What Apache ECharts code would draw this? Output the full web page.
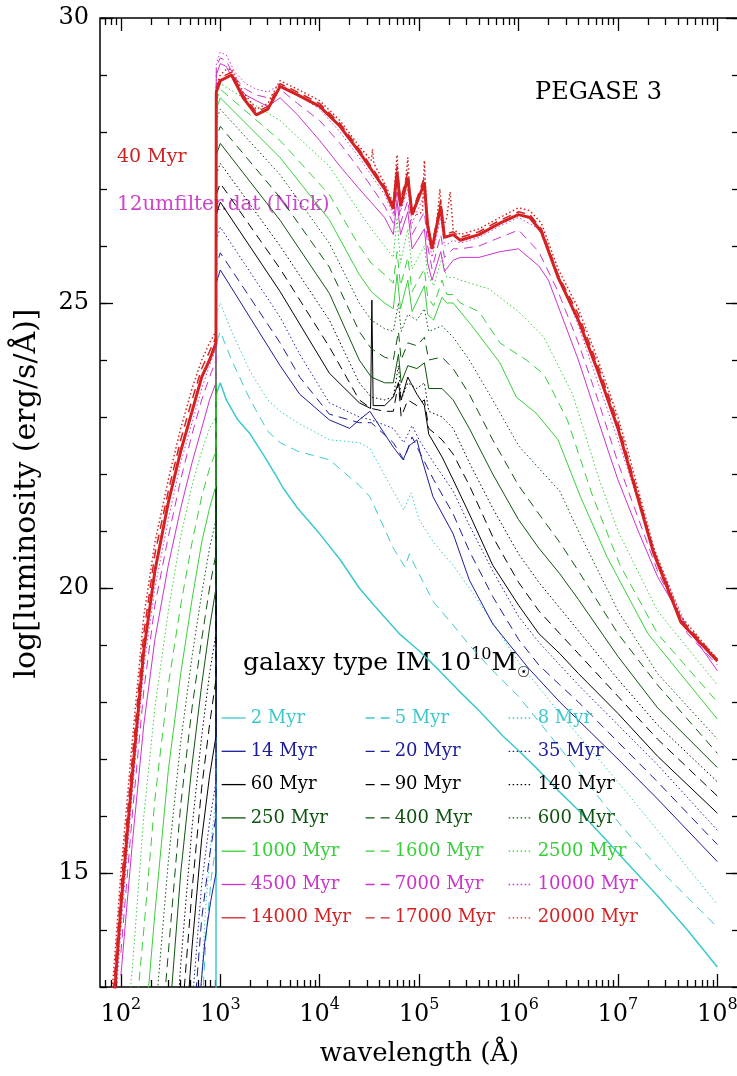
<!DOCTYPE html>
<html>
<head>
<meta charset="utf-8">
<script src="https://cdn.jsdelivr.net/npm/echarts@6/dist/echarts.min.js"></script>
<style>
  html, body { margin: 0; background: #fff; }
  #chart { width: 737px; height: 1076px; }
</style>
</head>
<body>
<div id="chart"></div>
<script>
// digitised SEDs: [wavelength in Å, log luminosity]
const myr2 = [[850,11.5],[905,12.0],[912,23.4],[1000,23.6],[1150,23.3],[1500,22.95],[2000,22.7],[2800,22.3],[3700,21.95],[4300,21.75],[6000,21.4],[10000,20.95],[16000,20.5],[25000,20.0],[35000,19.7],[50000,19.4],[63000,19.2],[100000,18.9],[160000,18.55],[250000,18.2],[400000,17.85],[700000,17.4],[1000000,17.15],[1600000,16.8],[2500000,16.45],[4000000,16.1],[7000000,15.65],[12000000,15.2],[25000000,14.6],[50000000,14.0],[100000000,13.35]];
const myr5 = [[650,12.5],[720,13.9],[810,14.9],[905,15.5],[912,24.3],[1000,24.5],[1300,24.0],[2000,23.3],[3000,22.75],[4000,22.55],[6000,22.4],[12500,22.25],[25000,21.8],[32000,21.6],[55000,20.7],[72000,20.37],[80000,20.6],[90000,20.4],[140000,19.75],[220000,19.35],[320000,19.0],[550000,18.55],[1000000,18.1],[2600000,17.2],[10000000,15.9],[25000000,15.1],[100000000,14.05]];
const myr8 = [[620,12.4],[700,14.2],[800,15.5],[905,16.3],[912,24.8],[1000,25.0],[1300,24.5],[2000,23.8],[3000,23.3],[4000,23.1],[6000,22.9],[12500,22.6],[25000,22.55],[32000,22.45],[55000,21.7],[70000,21.37],[83000,21.67],[100000,21.2],[140000,20.8],[220000,20.4],[320000,20.0],[550000,19.4],[1000000,18.7],[2600000,17.8],[10000000,16.6],[25000000,15.75],[100000000,14.45]];
const myr14 = [[600,12.5],[700,13.8],[800,14.5],[905,15.0],[912,25.35],[1000,25.58],[4000,23.9],[6300,23.4],[12500,22.95],[20000,22.8],[25000,22.95],[32000,23.1],[55000,22.47],[69000,22.25],[80000,22.5],[95000,22.6],[105000,22.3],[138000,21.6],[220000,20.95],[320000,20.14],[550000,19.37],[1250000,18.6],[2600000,18.0],[10000000,17.0],[25000000,16.3],[100000000,15.2]];
const myr20 = [[540,12.4],[650,14.2],[780,15.3],[905,16.0],[912,25.65],[1000,25.88],[4000,24.3],[6300,23.7],[12500,23.05],[25000,22.9],[33000,22.9],[55000,22.55],[70000,22.25],[85000,22.65],[100000,22.4],[140000,21.9],[220000,21.3],[320000,20.65],[550000,19.85],[1000000,19.1],[1600000,18.65],[2600000,18.3],[4000000,18.0],[10000000,17.3],[25000000,16.6],[100000000,15.5]];
const myr35 = [[500,12.3],[650,14.8],[780,15.9],[905,16.6],[912,26.1],[1000,26.33],[4000,24.75],[6300,24.1],[12500,23.25],[25000,23.0],[33000,22.95],[55000,22.8],[70000,22.55],[85000,22.85],[100000,22.6],[140000,22.2],[220000,21.7],[320000,21.1],[550000,20.3],[1000000,19.5],[1600000,19.05],[2600000,18.65],[4000000,18.3],[10000000,17.6],[25000000,16.9],[100000000,15.75]];
const myr60 = [[450,12.2],[520,13.7],[650,15.6],[780,16.7],[905,17.4],[912,26.55],[1000,26.77],[4000,25.2],[12500,23.77],[25000,23.25],[32500,23.15],[33500,25.05],[34500,23.2],[45000,23.2],[55000,23.35],[62000,23.6],[66000,23.3],[77000,23.7],[95000,23.4],[113000,23.2],[125000,22.7],[170000,22.3],[220000,21.9],[320000,21.3],[550000,20.4],[1000000,19.7],[1600000,19.2],[2600000,18.85],[4000000,18.5],[10000000,17.8],[25000000,17.05],[100000000,16.05]];
const myr90 = [[400,12.2],[520,14.7],[650,16.5],[780,17.6],[905,18.4],[912,26.9],[1000,27.1],[4000,25.6],[12500,24.23],[25000,23.3],[33000,23.15],[45000,23.1],[55000,23.1],[62000,23.6],[66000,23.0],[77000,23.3],[95000,23.2],[113000,23.3],[125000,22.8],[170000,22.6],[220000,22.35],[320000,21.8],[550000,20.9],[1000000,20.1],[1600000,19.6],[2600000,19.2],[4000000,18.85],[10000000,18.1],[25000000,17.35],[100000000,16.35]];
const myr140 = [[360,12.2],[400,13.4],[520,15.8],[650,17.4],[780,18.5],[905,19.2],[912,27.25],[1000,27.45],[4000,26.0],[12500,24.7],[25000,23.6],[33000,23.35],[45000,23.3],[55000,23.35],[62000,23.9],[66000,23.3],[77000,23.6],[95000,23.5],[113000,23.6],[125000,23.1],[170000,23.0],[220000,22.8],[320000,22.2],[550000,21.4],[1000000,20.6],[1600000,20.1],[2600000,19.65],[4000000,19.25],[10000000,18.4],[25000000,17.6],[100000000,16.6]];
const myr250 = [[300,12.2],[400,15.0],[520,16.9],[650,18.3],[780,19.3],[905,20.0],[912,27.6],[1000,27.8],[4000,26.45],[12500,25.17],[25000,24.0],[33000,23.7],[45000,23.6],[55000,23.6],[62000,24.1],[66000,23.6],[77000,23.9],[95000,23.85],[113000,23.95],[125000,23.5],[170000,23.5],[220000,23.3],[320000,22.8],[550000,22.0],[1000000,21.2],[1600000,20.7],[2600000,20.25],[4000000,19.8],[10000000,18.8],[25000000,17.9],[100000000,16.85]];
const myr400 = [[260,12.3],[300,13.6],[400,16.2],[520,17.9],[650,19.1],[780,20.0],[905,20.6],[912,27.9],[1000,28.1],[4000,26.85],[12500,25.63],[25000,24.5],[33000,24.2],[45000,24.05],[55000,24.0],[62000,24.5],[66000,24.0],[77000,24.3],[95000,24.25],[113000,24.4],[125000,24.0],[170000,24.05],[220000,23.85],[320000,23.4],[550000,22.6],[1000000,21.8],[1600000,21.3],[2600000,20.8],[4000000,20.3],[10000000,19.2],[25000000,18.3],[100000000,17.1]];
const myr600 = [[220,12.4],[300,15.2],[400,17.3],[520,18.8],[650,19.9],[780,20.7],[905,21.2],[912,28.2],[1000,28.4],[4000,27.25],[12500,26.05],[25000,25.0],[33000,24.7],[45000,24.55],[55000,24.5],[62000,25.0],[66000,24.5],[77000,24.8],[95000,24.7],[113000,24.9],[125000,24.5],[170000,24.6],[220000,24.4],[320000,24.0],[550000,23.3],[1000000,22.5],[1600000,22.1],[2600000,21.7],[4000000,21.0],[10000000,19.6],[25000000,18.5],[100000000,17.35]];
const myr1000 = [[170,12.0],[220,14.3],[300,16.8],[400,18.5],[520,19.8],[650,20.8],[780,21.4],[905,21.8],[912,28.4],[1000,28.6],[4000,27.55],[12500,26.46],[25000,25.5],[33000,25.2],[45000,25.0],[55000,24.9],[60000,25.5],[65000,24.9],[77000,25.4],[85000,24.85],[113000,25.3],[122000,24.8],[140000,24.7],[170000,25.1],[190000,25.0],[220000,25.0],[340000,24.6],[650000,23.95],[950000,23.35],[1500000,23.07],[2500000,22.6],[4200000,21.6],[7800000,20.54],[20000000,19.2],[100000000,17.7]];
const myr1600 = [[130,11.8],[170,14.0],[220,16.3],[300,18.3],[400,19.7],[520,20.8],[650,21.6],[780,22.1],[905,22.4],[912,28.55],[1000,28.75],[4000,27.85],[12500,26.9],[25000,26.0],[33000,25.7],[45000,25.5],[55000,25.35],[60000,25.9],[65000,25.3],[77000,25.8],[85000,25.2],[113000,25.6],[122000,25.1],[140000,24.95],[170000,25.4],[190000,25.15],[220000,25.15],[260000,25.0],[400000,24.85],[650000,24.3],[1200000,24.0],[1800000,23.75],[3100000,22.95],[5600000,21.6],[10500000,20.4],[25000000,19.2],[100000000,18.0]];
const myr2500 = [[110,12.0],[130,13.3],[170,16.0],[220,17.9],[300,19.6],[400,20.9],[520,21.8],[650,22.4],[780,22.8],[905,23.0],[912,28.65],[1000,28.85],[4000,28.2],[12500,27.4],[25000,26.6],[33000,26.3],[45000,26.0],[55000,25.8],[60000,26.5],[65000,25.7],[77000,26.3],[85000,25.6],[113000,26.0],[122000,25.5],[140000,25.3],[170000,25.8],[190000,25.45],[220000,25.45],[260000,25.4],[500000,25.25],[1000000,24.85],[1800000,24.4],[3500000,23.4],[6500000,21.9],[10000000,21.0],[25000000,19.6],[100000000,18.3]];
const myr4500 = [[100,13.2],[130,15.5],[170,17.6],[220,19.1],[300,20.4],[400,21.4],[520,22.2],[650,22.8],[780,23.3],[905,23.6],[912,29.0],[1000,29.2],[1150,29.15],[1400,28.85],[1800,28.65],[2300,28.55],[3000,28.45],[4000,28.6],[6000,28.3],[10000,27.85],[16000,27.4],[25000,27.0],[45000,26.5],[55000,26.2],[60000,26.8],[65000,26.2],[77000,26.6],[85000,25.95],[113000,26.3],[122000,25.7],[135000,25.4],[165000,25.9],[180000,25.55],[220000,25.75],[260000,25.8],[400000,25.8],[650000,25.9],[1000000,25.95],[1600000,25.65],[2000000,25.4],[2500000,24.95],[4000000,24.0],[8000000,22.4],[10000000,21.9],[16000000,21.0],[25000000,20.2],[50000000,19.3],[100000000,18.55]];
const myr7000 = [[100,13.6],[130,16.0],[170,18.2],[220,19.7],[300,20.9],[400,21.9],[520,22.7],[650,23.3],[780,23.7],[905,24.0],[912,29.15],[1000,29.3],[1150,29.25],[1400,28.95],[1800,28.75],[2300,28.65],[3000,28.6],[4000,28.75],[6000,28.5],[10000,28.2],[16000,27.8],[25000,27.35],[45000,26.7],[55000,26.4],[60000,27.0],[65000,26.4],[77000,26.8],[85000,26.2],[113000,26.6],[122000,26.0],[135000,25.6],[165000,26.2],[180000,25.8],[220000,25.95],[260000,25.95],[400000,26.0],[650000,26.15],[1000000,26.28],[1600000,25.9],[2500000,25.2],[4000000,24.3],[6300000,23.3],[10000000,22.2],[25000000,20.3],[50000000,19.2],[100000000,18.65]];
const myr10000 = [[80,11.6],[100,14.0],[130,16.4],[170,18.6],[220,20.0],[300,21.2],[400,22.2],[520,22.9],[650,23.5],[780,23.9],[905,24.2],[912,29.2],[1000,29.4],[1150,29.35],[1400,29.05],[1800,28.85],[2300,28.75],[3000,28.7],[3700,28.8],[4000,28.85],[6000,28.65],[10000,28.4],[16000,28.0],[25000,27.55],[45000,26.9],[55000,26.55],[60000,27.2],[65000,26.6],[77000,27.0],[85000,26.4],[113000,26.9],[122000,26.2],[135000,25.8],[165000,26.5],[180000,26.0],[220000,26.1],[260000,26.05],[400000,26.15],[650000,26.35],[1000000,26.5],[1600000,26.3],[2500000,25.5],[4000000,24.6],[6300000,23.6],[10000000,22.6],[25000000,20.5],[50000000,19.3],[100000000,18.7]];
const myr14000 = [[80,12.1],[100,14.4],[130,16.7],[170,18.9],[220,20.3],[300,21.5],[400,22.4],[520,23.1],[650,23.7],[780,24.0],[905,24.3],[912,28.7],[1000,28.9],[1300,29.0],[1700,28.6],[2300,28.3],[3000,28.4],[4000,28.8],[6000,28.65],[10000,28.45],[16000,28.1],[25000,27.65],[45000,27.0],[55000,26.65],[60000,27.3],[65000,26.7],[77000,27.2],[85000,26.55],[113000,27.1],[122000,26.35],[135000,25.95],[165000,26.7],[180000,26.15],[220000,26.2],[260000,26.1],[400000,26.2],[650000,26.4],[1000000,26.55],[1300000,26.5],[1700000,26.25],[2500000,25.45],[4000000,24.7],[6300000,23.8],[10000000,22.8],[23000000,20.6],[43000000,19.4],[100000000,18.72]];
const myr17000 = [[80,12.4],[100,14.7],[130,17.0],[170,19.2],[220,20.6],[300,21.7],[400,22.6],[520,23.3],[650,23.85],[780,24.15],[905,24.4],[912,28.75],[1000,28.95],[1300,29.05],[1700,28.65],[2300,28.35],[3000,28.45],[4000,28.85],[6000,28.7],[10000,28.5],[16000,28.15],[25000,27.7],[45000,27.05],[55000,26.7],[60000,27.4],[65000,26.8],[77000,27.3],[85000,26.6],[113000,27.2],[122000,26.4],[135000,26.0],[165000,26.8],[180000,26.2],[220000,26.25],[260000,26.15],[400000,26.25],[650000,26.45],[1000000,26.6],[1300000,26.55],[1700000,26.3],[2500000,25.5],[4000000,24.8],[6300000,23.9],[10000000,22.9],[23000000,20.65],[43000000,19.45],[100000000,18.75]];
const myr20000 = [[80,12.7],[100,15.0],[130,17.3],[170,19.5],[220,20.8],[300,21.9],[400,22.8],[520,23.5],[650,24.0],[780,24.3],[905,24.5],[912,28.8],[1000,29.0],[1150,29.1],[1300,29.1],[1700,28.7],[2300,28.4],[3000,28.5],[3700,28.8],[4000,28.9],[6000,28.75],[10000,28.55],[16000,28.2],[25000,27.75],[33000,27.5],[34000,27.7],[35000,27.45],[45000,27.1],[55000,26.75],[60000,27.6],[63000,26.9],[70000,26.8],[77000,27.55],[82000,26.7],[95000,26.55],[108000,26.6],[113000,27.5],[120000,26.5],[135000,26.0],[150000,26.4],[162000,27.0],[172000,26.3],[190000,26.5],[205000,26.95],[220000,26.3],[260000,26.2],[400000,26.3],[650000,26.5],[1000000,26.67],[1300000,26.62],[1700000,26.4],[2500000,25.6],[4000000,24.9],[6300000,24.0],[10000000,23.0],[12600000,22.4],[23000000,20.7],[43000000,19.5],[100000000,18.75]];

const ageNames = ['2 Myr','5 Myr','8 Myr','14 Myr','20 Myr','35 Myr','60 Myr','90 Myr','140 Myr',
  '250 Myr','400 Myr','600 Myr','1000 Myr','1600 Myr','2500 Myr','4500 Myr','7000 Myr','10000 Myr',
  '14000 Myr','17000 Myr','20000 Myr'];
const ageData = [myr2, myr5, myr8, myr14, myr20, myr35, myr60, myr90, myr140, myr250, myr400, myr600,
  myr1000, myr1600, myr2500, myr4500, myr7000, myr10000, myr14000, myr17000, myr20000];

const yTickLabels = [15, 20, 25, 30];
const xTickExponents = [2, 3, 4, 5, 6, 7, 8];

// one colour per triplet, and solid / dashed / dotted within it
const groupColors = ['#3cc8cc', '#1c1c9c', '#000000', '#0e540e', '#38d038', '#cc33cc', '#d42222'];
const dashes = ['solid', [9, 6], [1.5, 2.5]];

const serif = '"DejaVu Serif", "Liberation Serif", serif';
const xMin = 1.79, xMax = 8.218;

const minorX = [];
for (let e = 1; e <= 8; e++) {
  for (let m = 2; m <= 9; m++) {
    const v = e + Math.log10(m);
    if (v > xMin && v < xMax) minorX.push(v);
  }
}
const minorY = [];
for (let v = 13; v <= 30; v++) minorY.push(v);

const chart = echarts.init(document.getElementById('chart'), null, { renderer: 'canvas' });

const series = ageData.map((pts, i) => {
  const group = Math.floor(i / 3);
  let width = 1;
  if (i === 0) width = 1.5;
  if (group === 6) width = 1.5;
  if (i === 18) width = 3;
  return {
    name: ageNames[i],
    type: 'line',
    data: pts.map(p => [Math.log10(p[0]), p[1]]),
    symbol: 'none',
    silent: true,
    clip: true,
    color: groupColors[group],
    lineStyle: { color: groupColors[group], width: width, type: dashes[i % 3] }
  };
});

const tickStyle = { color: '#000', width: 1.3 };

function xAxisOf(position, ticks, len, withLabels) {
  return {
    type: 'value', position: position, min: xMin, max: xMax,
    axisLine: { show: false, onZero: false },
    splitLine: { show: false },
    axisTick: { show: true, inside: true, length: len, customValues: ticks, lineStyle: tickStyle },
    axisLabel: withLabels ? {
      show: true, margin: 10, customValues: xTickExponents,
      formatter: v => '{b|10}{s|' + Math.round(v) + '}',
      rich: {
        b: { fontFamily: serif, fontSize: 24, color: '#000', lineHeight: 30, verticalAlign: 'bottom' },
        s: { fontFamily: serif, fontSize: 16, color: '#000', lineHeight: 30, verticalAlign: 'top' }
      }
    } : { show: false }
  };
}

function yAxisOf(position, ticks, len, withLabels) {
  return {
    type: 'value', position: position, min: 13, max: 30,
    axisLine: { show: false, onZero: false },
    splitLine: { show: false },
    axisTick: { show: true, inside: true, length: len, customValues: ticks, lineStyle: tickStyle },
    axisLabel: withLabels ? {
      show: true, margin: 11, customValues: yTickLabels,
      fontFamily: serif, fontSize: 24, color: '#000'
    } : { show: false }
  };
}

const xAxes = [
  xAxisOf('bottom', xTickExponents, 13, true),
  xAxisOf('bottom', minorX, 7, false),
  xAxisOf('top', xTickExponents, 13, false),
  xAxisOf('top', minorX, 7, false)
];
Object.assign(xAxes[0], {
  name: 'wavelength (Å)', nameLocation: 'middle', nameGap: 54,
  nameTextStyle: { fontFamily: serif, fontSize: 26, color: '#000' }
});

const yAxes = [
  yAxisOf('left', yTickLabels, 13, true),
  yAxisOf('left', minorY, 7, false),
  yAxisOf('right', yTickLabels, 13, false),
  yAxisOf('right', minorY, 7, false)
];
Object.assign(yAxes[0], {
  name: 'log[luminosity (erg/s/Å)]', nameLocation: 'middle', nameGap: 58,
  nameTextStyle: { fontFamily: serif, fontSize: 30, color: '#000', padding: [0, 0, 0, 18] }
});

// legend in three columns, one row per colour group
const legendLeft = [216, 360, 503];
const legends = legendLeft.map((left, col) => ({
  orient: 'vertical', left: left, top: 703,
  itemWidth: 24, itemHeight: 20, itemGap: 13.3,
  selectedMode: false,
  itemStyle: { opacity: 0 },
  lineStyle: { width: 1.3 },
  textStyle: { fontFamily: serif, fontSize: 18, lineHeight: 20 },
  data: ageNames.filter((n, i) => i % 3 === col).map((n) => {
    const i = ageNames.indexOf(n);
    return { name: n, textStyle: { color: groupColors[Math.floor(i / 3)] } };
  })
}));

const option = {
  animation: false,
  backgroundColor: '#fff',
  grid: { left: 100, top: 18, width: 639, height: 969, outerBoundsMode: 'none',
    show: true, borderColor: '#000', borderWidth: 1.5 },
  xAxis: xAxes,
  yAxis: yAxes,
  legend: legends,
  graphic: [
    { type: 'text', x: 535, y: 93, style: { text: 'PEGASE 3', fill: '#000', font: '24px ' + serif, verticalAlign: 'middle' } },
    { type: 'text', x: 117, y: 157, style: { text: '40 Myr', fill: '#cc2222', font: '19px ' + serif, verticalAlign: 'middle' } },
    { type: 'text', x: 117, y: 205, style: { text: '12umfilter.dat (Nick)', fill: '#cc44cc', font: '20px ' + serif, verticalAlign: 'middle' } },
    {
      type: 'text', x: 243, y: 663,
      style: {
        text: '{n|galaxy type IM 10}{p|10}{n|M}{b|☉}',
        verticalAlign: 'middle',
        rich: {
          n: { fontFamily: serif, fontSize: 25, color: '#000', lineHeight: 36, verticalAlign: 'middle' },
          p: { fontFamily: serif, fontSize: 16, color: '#000', lineHeight: 36, verticalAlign: 'top', padding: [2, 0, 0, 0] },
          b: { fontFamily: '"DejaVu Sans", ' + serif, fontSize: 15, color: '#000', lineHeight: 36, verticalAlign: 'bottom' }
        }
      }
    }
  ],
  series: series
};

chart.setOption(option);
</script>
</body>
</html>
